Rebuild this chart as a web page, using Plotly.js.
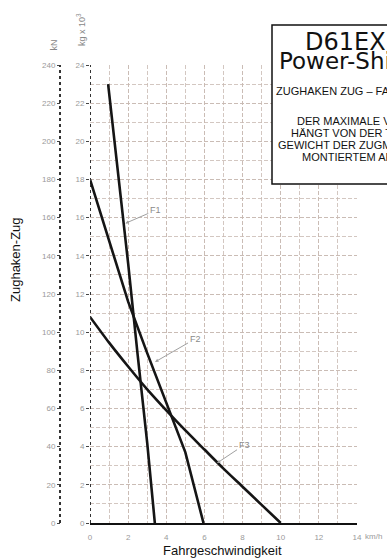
<!DOCTYPE html>
<html>
<head>
<meta charset="utf-8">
<script src="https://cdn.plot.ly/plotly-3.0.1.min.js"></script>
<style>html,body{margin:0;padding:0;background:#fff;overflow:hidden}#chart{width:387px;height:558px}</style>
</head>
<body>
<div id="chart"></div>
<script>
// ---- data (speed km/h, drawbar pull kg x 10^3) ----
const f1Speed = [0.95, 1.5, 2.0, 2.5, 3.0, 3.4];
const f1Pull  = [23, 18.1, 13.6, 8.8, 4.2, 0];
const f2Speed = [0, 1, 2, 3, 4, 5, 5.95];
const f2Pull  = [18, 14.8, 11.6, 8.9, 6.3, 3.7, 0];
const f3Speed = [0, 1, 2, 3, 4, 5, 6, 7, 8, 9, 10];
const f3Pull  = [10.8, 9.45, 8.2, 7.0, 5.9, 4.85, 3.85, 2.85, 1.9, 0.95, 0];
const gearNames = ['F1', 'F2', 'F3'];
const xTickVals = [0, 2, 4, 6, 8, 10, 12, 14];
const yTickVals = [0, 2, 4, 6, 8, 10, 12, 14, 16, 18, 20, 22, 24];
const kNTickVals = [0, 20, 40, 60, 80, 100, 120, 140, 160, 180, 200, 220, 240];
const labelPoints = [[1.85, 15.7], [3.41, 8.44], [6.66, 3.14]];

// ---- layout helpers (pixel -> paper) ----
const W = 387, H = 558, ML = 60, MR = 30, MT = 65, MB = 35;
const PW = W - ML - MR, PH = H - MT - MB;
const px = p => (p - ML) / PW;
const py = p => (H - MB - p) / PH;

const lineStyle = {color: '#151515', width: 2.6};
const traces = [
  {x: f1Speed, y: f1Pull, name: gearNames[0], mode: 'lines', line: lineStyle, hoverinfo: 'skip'},
  {x: f2Speed, y: f2Pull, name: gearNames[1], mode: 'lines', line: lineStyle, hoverinfo: 'skip'},
  {x: f3Speed, y: f3Pull, name: gearNames[2], mode: 'lines', line: Object.assign({shape: 'spline', smoothing: 0.6}, lineStyle), hoverinfo: 'skip'},
  {x: [0], y: [0], yaxis: 'y2', mode: 'markers', marker: {size: 0.1, color: 'rgba(0,0,0,0)'}, showlegend: false, hoverinfo: 'skip'}
];

const gridC = 'rgba(200,185,178,0.8)';
const tickFont = {family: 'Liberation Sans, Arial, sans-serif', size: 8, color: '#9a9a9a'};
const sans = 'Liberation Sans, Arial, sans-serif';

const offs = [[30, -13], [40, -23], [27, -18]];
const annotations = labelPoints.map((p, i) => ({
  x: p[0], y: p[1], xref: 'x', yref: 'y', text: gearNames[i],
  showarrow: true, ax: offs[i][0], ay: offs[i][1], arrowhead: 2, arrowsize: 0.7,
  arrowwidth: 1, arrowcolor: '#a0a0a0', font: {family: sans, size: 9, color: '#8a8a8a'}
}));

const ann = (text, xp, yp, opts) => Object.assign({
  text: text, x: px(xp), y: py(yp), xref: 'paper', yref: 'paper', showarrow: false,
  xanchor: 'center', yanchor: 'middle'
}, opts);

annotations.push(
  ann('Zughaken-Zug', 15, 260, {textangle: -90, font: {family: sans, size: 13, color: '#111'}}),
  ann('Fahrgeschwindigkeit', 222, 550, {font: {family: sans, size: 13, color: '#111'}}),
  ann('kN', 53.5, 45, {textangle: -90, font: {family: sans, size: 9, color: '#888'}}),
  ann('kg x 10<sup>3</sup>', 81, 30, {textangle: -90, font: {family: sans, size: 9, color: '#888'}}),
  ann('km/h', 363, 536, {xanchor: 'left', font: {family: sans, size: 8, color: '#9a9a9a'}}),
  ann('D61EX', 303, 42, {xanchor: 'left', font: {family: 'DejaVu Sans, sans-serif', size: 24, color: '#111'}}),
  ann('Power-Shift', 277, 61, {xanchor: 'left', font: {family: 'DejaVu Sans, sans-serif', size: 23, color: '#111'}}),
  ann('ZUGHAKEN ZUG – FAHRGESCHWINDIGKEIT', 274, 91, {xanchor: 'left', font: {family: sans, size: 11, color: '#111'}}),
  ann('DER MAXIMALE VERWENDBARE ZUG', 295, 120.5, {xanchor: 'left', font: {family: sans, size: 11, color: '#111'}}),
  ann('HÄNGT VON DER TRAKTION UND', 289, 132.5, {xanchor: 'left', font: {family: sans, size: 11, color: '#111'}}),
  ann('GEWICHT DER ZUGMASCHINE MIT', 276, 144.5, {xanchor: 'left', font: {family: sans, size: 11, color: '#111'}}),
  ann('MONTIERTEM ARBEITSGERÄT AB', 300, 156.5, {xanchor: 'left', font: {family: sans, size: 11, color: '#111'}})
);

const shapes = [
  {type: 'line', xref: 'x', yref: 'paper', x0: 0, x1: 0, y0: 0, y1: 1, line: {color: '#333', width: 2, dash: 'dot'}},
  {type: 'line', xref: 'paper', yref: 'paper', x0: 0, x1: 0, y0: 0, y1: 1, line: {color: '#333', width: 2, dash: 'dot'}},
  {type: 'rect', xref: 'paper', yref: 'paper', x0: px(272), x1: px(500), y0: py(184), y1: py(25),
   fillcolor: '#fff', line: {color: '#111', width: 1.5}, layer: 'above'}
];

const layout = {
  width: W, height: H,
  margin: {l: ML, r: MR, t: MT, b: MB, pad: 0},
  paper_bgcolor: '#fff', plot_bgcolor: '#fff',
  showlegend: false,
  xaxis: {
    domain: [30 / PW, 1], range: [0, 14], tickvals: xTickVals, ticktext: xTickVals.map(String),
    showgrid: true, gridcolor: gridC, griddash: '4px,2px', gridwidth: 1,
    minor: {dtick: 1, tick0: 0, showgrid: true, gridcolor: gridC, griddash: '4px,2px', gridwidth: 1},
    zeroline: false, showline: true, linecolor: '#111', linewidth: 2,
    ticks: 'outside', ticklen: 5, tickcolor: 'rgba(0,0,0,0)', tickfont: tickFont, fixedrange: true
  },
  yaxis: {
    range: [0, 24], tickvals: yTickVals, ticktext: yTickVals.map(String),
    showgrid: true, gridcolor: gridC, griddash: '4px,2px', gridwidth: 1,
    minor: {dtick: 1, tick0: 0, showgrid: true, gridcolor: gridC, griddash: '4px,2px', gridwidth: 1},
    zeroline: false, showline: false, ticks: 'outside', ticklen: 3, tickcolor: '#444',
    tickfont: tickFont, fixedrange: true
  },
  yaxis2: {
    overlaying: 'y', anchor: 'free', position: 0, side: 'left', range: [0, 240],
    tickvals: kNTickVals, ticktext: kNTickVals.map(String), showgrid: false, zeroline: false,
    showline: false, ticks: 'outside', ticklen: 3, tickcolor: '#444', tickfont: tickFont, fixedrange: true
  },
  shapes: shapes,
  annotations: annotations
};

Plotly.newPlot('chart', traces, layout, {displayModeBar: false, staticPlot: true});
</script>
</body>
</html>
